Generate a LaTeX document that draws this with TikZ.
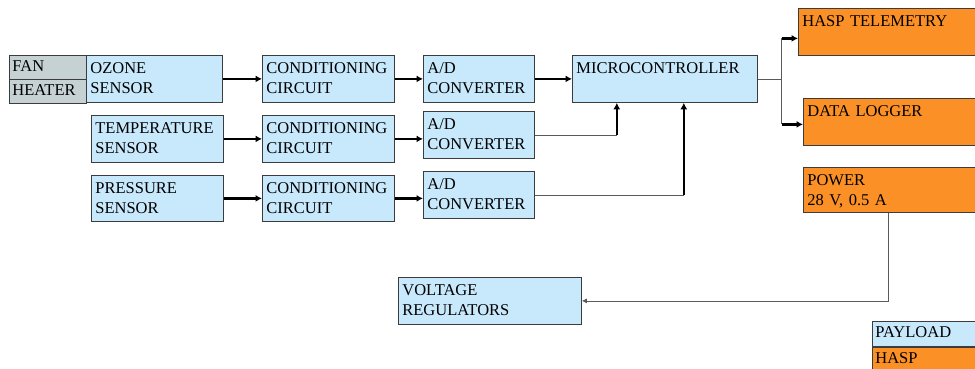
\documentclass[tikz,border=0pt]{standalone}
\usepackage{fontspec}
\setmainfont{Liberation Serif}
\usetikzlibrary{arrows.meta}

\definecolor{boxblue}{RGB}{200,232,252}
\definecolor{boxorange}{RGB}{250,144,38}
\definecolor{boxgrey}{RGB}{198,209,212}
\definecolor{edgegrey}{RGB}{60,60,60}
\definecolor{wiregrey}{RGB}{90,90,90}

\begin{document}
\begin{tikzpicture}[x=1pt,y=-1pt,
                    every node/.style={font=\fontsize{16.5}{20}\selectfont},
                    blk/.style={draw=edgegrey,line width=0.8pt,anchor=north west,align=left,
                                inner xsep=4pt,inner ysep=5pt,text height=13pt,text depth=24pt,text width=#1},
                    cell/.style={draw=edgegrey,line width=0.8pt,anchor=north west,align=left,
                                 inner xsep=3pt,inner ysep=0pt,text height=12pt,text depth=4pt,
                                 text width=#1,minimum height=23.5pt},
                    thk/.style={line width=2.2pt,-{Latex[length=6.5pt,width=7pt]}},
                    wire/.style={wiregrey,line width=0.8pt}
]
\useasboundingbox[fill=white] (0,0) rectangle (975,368);
\clip (0,0) rectangle (975,368);

% sensors
\node [cell=71pt, fill=boxgrey] at (9,55) (fan) {FAN};
\node [cell=71pt, fill=boxgrey] at (fan.south west) (heater) {HEATER};
\node [blk=128pt, fill=boxblue] at (86,55) (ozone) {OZONE\\SENSOR};
\node [blk=124pt, fill=boxblue] at (91,115) (temp) {TEMPERATURE\\SENSOR};
\node [blk=124pt, fill=boxblue, text depth=23pt] at (91,175) (press) {PRESSURE\\SENSOR};
%
\node [blk=124pt, fill=boxblue] at (262,55) (cond1) {CONDITIONING\\CIRCUIT};
\node [blk=124pt, fill=boxblue] at (262,115) (cond2) {CONDITIONING\\CIRCUIT};
\node [blk=124pt, fill=boxblue, text depth=23pt] at (262,175) (cond3) {CONDITIONING\\CIRCUIT};
%
\node [blk=103pt, fill=boxblue] at (423,55) (ad1) {A/D\\CONVERTER};
\node [blk=103pt, fill=boxblue] at (423,111) (ad2) {A/D\\CONVERTER};
\node [blk=103pt, fill=boxblue] at (423,171) (ad3) {A/D\\CONVERTER};
%
\node [blk=177pt, fill=boxblue] at (572,55) (micro) {MICROCONTROLLER};
%
\node [blk=182pt, fill=boxorange] at (798,8) (tele) {HASP TELEMETRY};
\node [blk=182pt, fill=boxorange] at (803,98) (logger) {DATA LOGGER};
\node [blk=182pt, fill=boxorange, text depth=22pt] at (803,167) (power) {POWER\\28 V, 0.5 A};
%
\node [blk=175pt, fill=boxblue] at (398,277) (vreg) {VOLTAGE\\REGULATORS};
%
\node [cell=112pt, fill=boxblue, minimum height=25pt] at (872,321) (payload) {PAYLOAD};
\node [cell=112pt, fill=boxorange, minimum height=25pt] at (payload.south west) (hasp) {HASP};
%
\draw [thk] (ozone.east) -- (cond1.west);
\draw [thk] (temp.east) -- (cond2.west);
\draw [thk] (press.east) -- (cond3.west);
\draw [thk] (cond1.east) -- (ad1.west |- cond1.east);
\draw [thk] (cond2.east) -- (ad2.west |- cond2.east);
\draw [thk] (cond3.east) -- (ad3.west |- cond3.east);
\draw [thk] (ad1.east) -- (micro.west);
%
\draw [wire] (ad2.east) -- ++(82,0) coordinate (j2);
\draw [thk] (j2) -- (j2 |- micro.south);
\draw [wire] (ad3.east) -- ++(149,0) coordinate (j3);
\draw [thk] (j3) -- (j3 |- micro.south);
%
\coordinate (tin) at ([yshift=-6.5pt]tele.west);
\coordinate (lin) at ([yshift=-2.5pt]logger.west);
\draw [wire] (micro.east) -- ++(24,0) coordinate (br);
\draw [wire] (br |- tin) -- (br |- lin);
\draw [thk] (br |- tin) -- (tin);
\draw [thk] (br |- lin) -- (lin);
%
\draw [wire, -{Latex[length=5pt,width=5pt]}] ([xshift=85pt]power.south west) |- (vreg.east);
\end{tikzpicture}
\end{document}
